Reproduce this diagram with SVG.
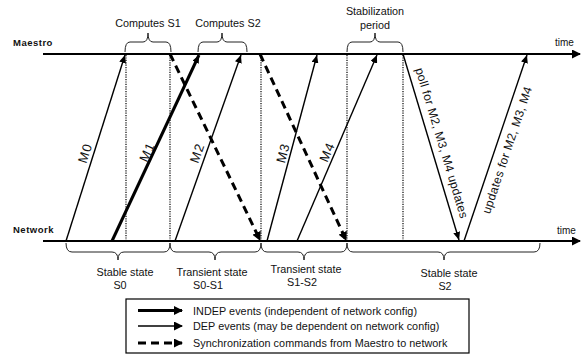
<svg xmlns="http://www.w3.org/2000/svg" width="587" height="354" viewBox="0 0 587 354">
<style>
text{font-family:"Liberation Sans",Arial,sans-serif;fill:#111;}
.lbl{font-size:10.8px;text-anchor:middle;}
.lane{font-size:9.5px;font-weight:bold;letter-spacing:0.5px;}
.tm{font-size:10px;}
.rot{font-size:12px;text-anchor:middle;letter-spacing:0.3px;}
.ml{font-size:13px;text-anchor:middle;letter-spacing:1px;}
.leg{font-size:10.8px;letter-spacing:0.05px;}
.axis{stroke:#000;stroke-width:2;fill:none;}
.ev{stroke:#000;stroke-width:1.4;fill:none;}
.thick{stroke:#000;stroke-width:3;fill:none;}
.dash{stroke:#000;stroke-width:3;stroke-dasharray:8,5;fill:none;}
.dot{stroke:#000;stroke-width:1.2;stroke-dasharray:1.2,1.2;fill:none;}
.brace{stroke:#222;stroke-width:1;fill:none;}
</style>
<defs>
<marker id="ah" markerUnits="userSpaceOnUse" markerWidth="9" markerHeight="7" refX="8" refY="3.5" orient="auto"><path d="M0,0 L8,3.5 L0,7 z" fill="#000"/></marker>
<marker id="ahb" markerUnits="userSpaceOnUse" markerWidth="10" markerHeight="9" refX="8" refY="4.5" orient="auto"><path d="M0,0 L9,4.5 L0,9 z" fill="#000"/></marker>
</defs>

<g id="maestro">
<line class="axis" x1="43" y1="54" x2="580" y2="54" marker-end="url(#ahb)"/>
<text class="lane" x="13" y="46">Maestro</text>
<text class="tm" x="555" y="46">time</text>
</g>
<g id="network">
<line class="axis" x1="43" y1="241" x2="580" y2="241" marker-end="url(#ahb)"/>
<text class="lane" x="13" y="233">Network</text>
<text class="tm" x="557" y="234">time</text>
</g>

<g id="dotted">
<line class="dot" x1="126" y1="55" x2="126" y2="241"/>
<line class="dot" x1="170" y1="55" x2="170" y2="241"/>
<line class="dot" x1="261" y1="55" x2="261" y2="241"/>
<line class="dot" x1="347" y1="55" x2="347" y2="241"/>
<line class="dot" x1="403" y1="55" x2="403" y2="241"/>
</g>

<g id="top-braces">
<path class="brace" d="M125,52 Q125,42 130,42 L143,42 Q148,42 148,33 Q148,42 153,42 L166,42 Q171,42 171,52"/>
<path class="brace" d="M198,52 Q198,42 203,42 L217,42 Q222,42 222,33 Q222,42 227,42 L242,42 Q247,42 247,52"/>
<path class="brace" d="M347,52 Q347,42 352,42 L370,42 Q375,42 375,33 Q375,42 380,42 L398,42 Q403,42 403,52"/>
<text class="lbl" x="148" y="27">Computes S1</text>
<text class="lbl" x="228" y="27">Computes S2</text>
<text class="lbl" x="375" y="15">Stabilization</text>
<text class="lbl" x="375" y="29">period</text>
</g>

<g id="bottom-braces">
<path class="brace" d="M66,243 Q66,252 72,252 L112,252 Q118,252 118,260 Q118,252 124,252 L164,252 Q170,252 170,243"/>
<path class="brace" d="M170,243 Q170,252 176,252 L209,252 Q215,252 215,260 Q215,252 221,252 L255,252 Q261,252 261,243"/>
<path class="brace" d="M261,243 Q261,252 267,252 L298,252 Q304,252 304,260 Q304,252 310,252 L341,252 Q347,252 347,243"/>
<path class="brace" d="M347,243 Q347,252 353,252 L438,252 Q444,252 444,260 Q444,252 450,252 L534,252 Q540,252 540,243"/>
<text class="lbl" x="125" y="276">Stable state</text>
<text class="lbl" x="120" y="289">S0</text>
<text class="lbl" x="212" y="276">Transient state</text>
<text class="lbl" x="208" y="289">S0-S1</text>
<text class="lbl" x="306" y="273">Transient state</text>
<text class="lbl" x="302" y="286">S1-S2</text>
<text class="lbl" x="449" y="277">Stable state</text>
<text class="lbl" x="445" y="290">S2</text>
</g>

<g id="connectors">
<line class="ev" x1="66" y1="241" x2="125" y2="55" marker-end="url(#ah)"/>
<line class="thick" x1="112" y1="241" x2="199" y2="55" marker-end="url(#ah)"/>
<line class="ev" x1="175" y1="241" x2="241" y2="55" marker-end="url(#ah)"/>
<line class="ev" x1="267" y1="241" x2="317" y2="55" marker-end="url(#ah)"/>
<line class="ev" x1="297" y1="241" x2="377" y2="55" marker-end="url(#ah)"/>
<line class="dash" x1="170" y1="54" x2="260" y2="240" marker-end="url(#ahb)"/>
<line class="dash" x1="260" y1="54" x2="346" y2="240" marker-end="url(#ahb)"/>
<line class="ev" x1="403" y1="54" x2="459" y2="240" marker-end="url(#ah)"/>
<line class="ev" x1="464" y1="241" x2="527" y2="55" marker-end="url(#ah)"/>
<text class="ml" transform="translate(85,153) rotate(-72.5)" dy="0.35em">M0</text>
<text class="ml" transform="translate(147,152) rotate(-65)" dy="0.35em">M1</text>
<text class="ml" transform="translate(197,153) rotate(-70.6)" dy="0.35em">M2</text>
<text class="ml" transform="translate(283,153) rotate(-75)" dy="0.35em">M3</text>
<text class="ml" transform="translate(327,152) rotate(-66.8)" dy="0.35em">M4</text>
<text class="rot" transform="translate(442,143) rotate(73.2)" dy="0.35em">poll for M2, M3, M4 updates</text>
<text class="rot" transform="translate(507,150) rotate(-71.4)" dy="0.35em">updates for M2, M3, M4</text>
</g>

<g id="legend">
<rect x="126" y="299" width="343" height="54" fill="#fff" stroke="#000" stroke-width="1.2"/>
<line class="thick" x1="138" y1="310.5" x2="182" y2="310.5" marker-end="url(#ahb)"/>
<line class="ev" x1="138" y1="326" x2="182" y2="326" marker-end="url(#ahb)"/>
<line class="dash" x1="138" y1="343" x2="182" y2="343" marker-end="url(#ahb)"/>
<text class="leg" x="193" y="314.5">INDEP events (independent of network config)</text>
<text class="leg" x="193" y="330">DEP events (may be dependent on network config)</text>
<text class="leg" x="193" y="347">Synchronization commands from Maestro to network</text>
</g>
</svg>
